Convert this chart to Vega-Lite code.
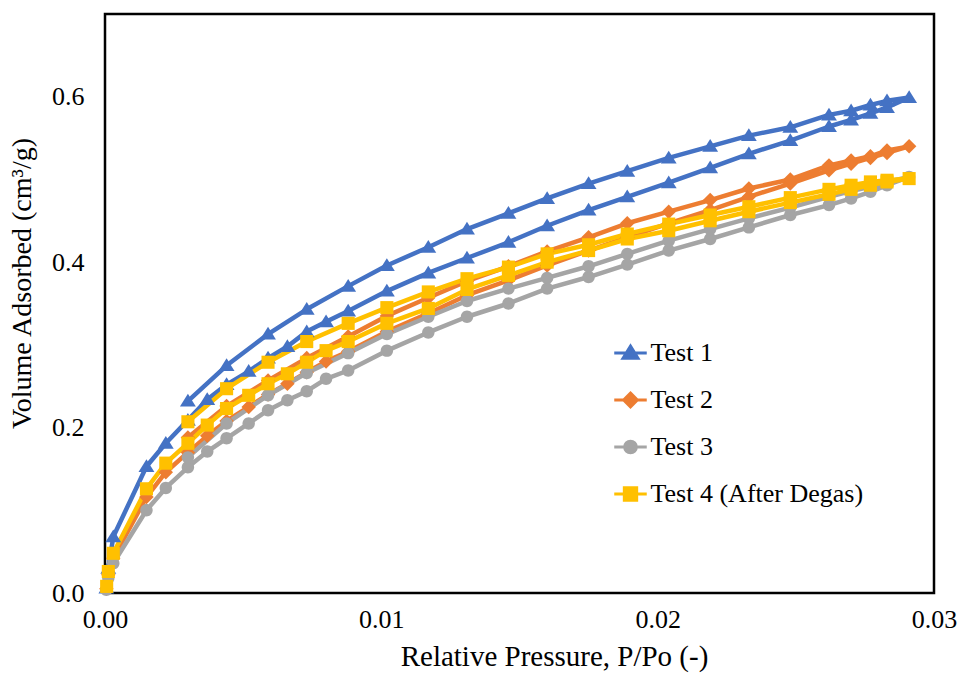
{
  "$schema": "https://vega.github.io/schema/vega-lite/v6.json",
  "width": 829,
  "height": 579,
  "autosize": {"type": "none"},
  "padding": {"left": 105, "top": 14, "right": 25, "bottom": 80},
  "background": "white",
  "config": {
    "view": {"stroke": "#000", "strokeWidth": 2.5},
    "font": "Times New Roman, Liberation Serif, serif"
  },
  "datasets": {
    "isotherms": [
      {"t": "Test 1", "i": 0, "p": 0.00005, "v": 0.006},
      {"t": "Test 1", "i": 1, "p": 0.00012, "v": 0.03},
      {"t": "Test 1", "i": 2, "p": 0.0003, "v": 0.068},
      {"t": "Test 1", "i": 3, "p": 0.0015, "v": 0.153},
      {"t": "Test 1", "i": 4, "p": 0.0022, "v": 0.181},
      {"t": "Test 1", "i": 5, "p": 0.003, "v": 0.209},
      {"t": "Test 1", "i": 6, "p": 0.0037, "v": 0.234},
      {"t": "Test 1", "i": 7, "p": 0.0044, "v": 0.252},
      {"t": "Test 1", "i": 8, "p": 0.0052, "v": 0.268},
      {"t": "Test 1", "i": 9, "p": 0.0059, "v": 0.284},
      {"t": "Test 1", "i": 10, "p": 0.0066, "v": 0.298},
      {"t": "Test 1", "i": 11, "p": 0.0073, "v": 0.316},
      {"t": "Test 1", "i": 12, "p": 0.008, "v": 0.328},
      {"t": "Test 1", "i": 13, "p": 0.0088, "v": 0.341},
      {"t": "Test 1", "i": 14, "p": 0.0102, "v": 0.365},
      {"t": "Test 1", "i": 15, "p": 0.0117, "v": 0.387},
      {"t": "Test 1", "i": 16, "p": 0.0131, "v": 0.405},
      {"t": "Test 1", "i": 17, "p": 0.0146, "v": 0.424},
      {"t": "Test 1", "i": 18, "p": 0.016, "v": 0.444},
      {"t": "Test 1", "i": 19, "p": 0.0175, "v": 0.463},
      {"t": "Test 1", "i": 20, "p": 0.0189, "v": 0.479},
      {"t": "Test 1", "i": 21, "p": 0.0204, "v": 0.496},
      {"t": "Test 1", "i": 22, "p": 0.0219, "v": 0.514},
      {"t": "Test 1", "i": 23, "p": 0.0233, "v": 0.531},
      {"t": "Test 1", "i": 24, "p": 0.0248, "v": 0.547},
      {"t": "Test 1", "i": 25, "p": 0.0262, "v": 0.564},
      {"t": "Test 1", "i": 26, "p": 0.027, "v": 0.572},
      {"t": "Test 1", "i": 27, "p": 0.0277, "v": 0.58},
      {"t": "Test 1", "i": 28, "p": 0.0283, "v": 0.587},
      {"t": "Test 1", "i": 29, "p": 0.0291, "v": 0.599},
      {"t": "Test 1", "i": 30, "p": 0.0283, "v": 0.595},
      {"t": "Test 1", "i": 31, "p": 0.0277, "v": 0.59},
      {"t": "Test 1", "i": 32, "p": 0.027, "v": 0.583},
      {"t": "Test 1", "i": 33, "p": 0.0262, "v": 0.578},
      {"t": "Test 1", "i": 34, "p": 0.0248, "v": 0.563},
      {"t": "Test 1", "i": 35, "p": 0.0233, "v": 0.553},
      {"t": "Test 1", "i": 36, "p": 0.0219, "v": 0.54},
      {"t": "Test 1", "i": 37, "p": 0.0204, "v": 0.526},
      {"t": "Test 1", "i": 38, "p": 0.0189, "v": 0.51},
      {"t": "Test 1", "i": 39, "p": 0.0175, "v": 0.495},
      {"t": "Test 1", "i": 40, "p": 0.016, "v": 0.477},
      {"t": "Test 1", "i": 41, "p": 0.0146, "v": 0.459},
      {"t": "Test 1", "i": 42, "p": 0.0131, "v": 0.44},
      {"t": "Test 1", "i": 43, "p": 0.0117, "v": 0.418},
      {"t": "Test 1", "i": 44, "p": 0.0102, "v": 0.396},
      {"t": "Test 1", "i": 45, "p": 0.0088, "v": 0.371},
      {"t": "Test 1", "i": 46, "p": 0.0073, "v": 0.343},
      {"t": "Test 1", "i": 47, "p": 0.0059, "v": 0.313},
      {"t": "Test 1", "i": 48, "p": 0.0044, "v": 0.275},
      {"t": "Test 1", "i": 49, "p": 0.003, "v": 0.232},

      {"t": "Test 2", "i": 0, "p": 0.00005, "v": 0.005},
      {"t": "Test 2", "i": 1, "p": 0.00012, "v": 0.022},
      {"t": "Test 2", "i": 2, "p": 0.0003, "v": 0.042},
      {"t": "Test 2", "i": 3, "p": 0.0015, "v": 0.116},
      {"t": "Test 2", "i": 4, "p": 0.0022, "v": 0.146},
      {"t": "Test 2", "i": 5, "p": 0.003, "v": 0.17},
      {"t": "Test 2", "i": 6, "p": 0.0037, "v": 0.19},
      {"t": "Test 2", "i": 7, "p": 0.0044, "v": 0.208},
      {"t": "Test 2", "i": 8, "p": 0.0052, "v": 0.225},
      {"t": "Test 2", "i": 9, "p": 0.0059, "v": 0.24},
      {"t": "Test 2", "i": 10, "p": 0.0066, "v": 0.253},
      {"t": "Test 2", "i": 11, "p": 0.0073, "v": 0.267},
      {"t": "Test 2", "i": 12, "p": 0.008, "v": 0.28},
      {"t": "Test 2", "i": 13, "p": 0.0088, "v": 0.292},
      {"t": "Test 2", "i": 14, "p": 0.0102, "v": 0.316},
      {"t": "Test 2", "i": 15, "p": 0.0117, "v": 0.338},
      {"t": "Test 2", "i": 16, "p": 0.0131, "v": 0.36},
      {"t": "Test 2", "i": 17, "p": 0.0146, "v": 0.378},
      {"t": "Test 2", "i": 18, "p": 0.016, "v": 0.396},
      {"t": "Test 2", "i": 19, "p": 0.0175, "v": 0.414},
      {"t": "Test 2", "i": 20, "p": 0.0189, "v": 0.43},
      {"t": "Test 2", "i": 21, "p": 0.0204, "v": 0.447},
      {"t": "Test 2", "i": 22, "p": 0.0219, "v": 0.463},
      {"t": "Test 2", "i": 23, "p": 0.0233, "v": 0.479},
      {"t": "Test 2", "i": 24, "p": 0.0248, "v": 0.495},
      {"t": "Test 2", "i": 25, "p": 0.0262, "v": 0.511},
      {"t": "Test 2", "i": 26, "p": 0.027, "v": 0.519},
      {"t": "Test 2", "i": 27, "p": 0.0277, "v": 0.526},
      {"t": "Test 2", "i": 28, "p": 0.0283, "v": 0.532},
      {"t": "Test 2", "i": 29, "p": 0.0291, "v": 0.54},
      {"t": "Test 2", "i": 30, "p": 0.0283, "v": 0.535},
      {"t": "Test 2", "i": 31, "p": 0.0277, "v": 0.528},
      {"t": "Test 2", "i": 32, "p": 0.027, "v": 0.523},
      {"t": "Test 2", "i": 33, "p": 0.0262, "v": 0.517},
      {"t": "Test 2", "i": 34, "p": 0.0248, "v": 0.5},
      {"t": "Test 2", "i": 35, "p": 0.0233, "v": 0.489},
      {"t": "Test 2", "i": 36, "p": 0.0219, "v": 0.475},
      {"t": "Test 2", "i": 37, "p": 0.0204, "v": 0.461},
      {"t": "Test 2", "i": 38, "p": 0.0189, "v": 0.447},
      {"t": "Test 2", "i": 39, "p": 0.0175, "v": 0.43},
      {"t": "Test 2", "i": 40, "p": 0.016, "v": 0.413},
      {"t": "Test 2", "i": 41, "p": 0.0146, "v": 0.395},
      {"t": "Test 2", "i": 42, "p": 0.0131, "v": 0.377},
      {"t": "Test 2", "i": 43, "p": 0.0117, "v": 0.357},
      {"t": "Test 2", "i": 44, "p": 0.0102, "v": 0.335},
      {"t": "Test 2", "i": 45, "p": 0.0088, "v": 0.31},
      {"t": "Test 2", "i": 46, "p": 0.0073, "v": 0.284},
      {"t": "Test 2", "i": 47, "p": 0.0059, "v": 0.257},
      {"t": "Test 2", "i": 48, "p": 0.0044, "v": 0.226},
      {"t": "Test 2", "i": 49, "p": 0.003, "v": 0.188},

      {"t": "Test 3", "i": 0, "p": 0.00005, "v": 0.004},
      {"t": "Test 3", "i": 1, "p": 0.00012, "v": 0.018},
      {"t": "Test 3", "i": 2, "p": 0.0003, "v": 0.036},
      {"t": "Test 3", "i": 3, "p": 0.0015, "v": 0.1},
      {"t": "Test 3", "i": 4, "p": 0.0022, "v": 0.127},
      {"t": "Test 3", "i": 5, "p": 0.003, "v": 0.152},
      {"t": "Test 3", "i": 6, "p": 0.0037, "v": 0.171},
      {"t": "Test 3", "i": 7, "p": 0.0044, "v": 0.187},
      {"t": "Test 3", "i": 8, "p": 0.0052, "v": 0.205},
      {"t": "Test 3", "i": 9, "p": 0.0059, "v": 0.221},
      {"t": "Test 3", "i": 10, "p": 0.0066, "v": 0.233},
      {"t": "Test 3", "i": 11, "p": 0.0073, "v": 0.244},
      {"t": "Test 3", "i": 12, "p": 0.008, "v": 0.259},
      {"t": "Test 3", "i": 13, "p": 0.0088, "v": 0.269},
      {"t": "Test 3", "i": 14, "p": 0.0102, "v": 0.293},
      {"t": "Test 3", "i": 15, "p": 0.0117, "v": 0.315},
      {"t": "Test 3", "i": 16, "p": 0.0131, "v": 0.334},
      {"t": "Test 3", "i": 17, "p": 0.0146, "v": 0.35},
      {"t": "Test 3", "i": 18, "p": 0.016, "v": 0.368},
      {"t": "Test 3", "i": 19, "p": 0.0175, "v": 0.382},
      {"t": "Test 3", "i": 20, "p": 0.0189, "v": 0.397},
      {"t": "Test 3", "i": 21, "p": 0.0204, "v": 0.414},
      {"t": "Test 3", "i": 22, "p": 0.0219, "v": 0.428},
      {"t": "Test 3", "i": 23, "p": 0.0233, "v": 0.442},
      {"t": "Test 3", "i": 24, "p": 0.0248, "v": 0.457},
      {"t": "Test 3", "i": 25, "p": 0.0262, "v": 0.469},
      {"t": "Test 3", "i": 26, "p": 0.027, "v": 0.477},
      {"t": "Test 3", "i": 27, "p": 0.0277, "v": 0.485},
      {"t": "Test 3", "i": 28, "p": 0.0283, "v": 0.493},
      {"t": "Test 3", "i": 29, "p": 0.0291, "v": 0.503},
      {"t": "Test 3", "i": 30, "p": 0.0283, "v": 0.497},
      {"t": "Test 3", "i": 31, "p": 0.0277, "v": 0.491},
      {"t": "Test 3", "i": 32, "p": 0.027, "v": 0.486},
      {"t": "Test 3", "i": 33, "p": 0.0262, "v": 0.479},
      {"t": "Test 3", "i": 34, "p": 0.0248, "v": 0.466},
      {"t": "Test 3", "i": 35, "p": 0.0233, "v": 0.453},
      {"t": "Test 3", "i": 36, "p": 0.0219, "v": 0.44},
      {"t": "Test 3", "i": 37, "p": 0.0204, "v": 0.426},
      {"t": "Test 3", "i": 38, "p": 0.0189, "v": 0.41},
      {"t": "Test 3", "i": 39, "p": 0.0175, "v": 0.395},
      {"t": "Test 3", "i": 40, "p": 0.016, "v": 0.381},
      {"t": "Test 3", "i": 41, "p": 0.0146, "v": 0.368},
      {"t": "Test 3", "i": 42, "p": 0.0131, "v": 0.353},
      {"t": "Test 3", "i": 43, "p": 0.0117, "v": 0.334},
      {"t": "Test 3", "i": 44, "p": 0.0102, "v": 0.313},
      {"t": "Test 3", "i": 45, "p": 0.0088, "v": 0.29},
      {"t": "Test 3", "i": 46, "p": 0.0073, "v": 0.266},
      {"t": "Test 3", "i": 47, "p": 0.0059, "v": 0.239},
      {"t": "Test 3", "i": 48, "p": 0.0044, "v": 0.205},
      {"t": "Test 3", "i": 49, "p": 0.003, "v": 0.164},

      {"t": "Test 4 (After Degas)", "i": 0, "p": 0.00006, "v": 0.008},
      {"t": "Test 4 (After Degas)", "i": 1, "p": 0.00012, "v": 0.026},
      {"t": "Test 4 (After Degas)", "i": 2, "p": 0.0003, "v": 0.048},
      {"t": "Test 4 (After Degas)", "i": 3, "p": 0.0015, "v": 0.126},
      {"t": "Test 4 (After Degas)", "i": 4, "p": 0.0022, "v": 0.157},
      {"t": "Test 4 (After Degas)", "i": 5, "p": 0.003, "v": 0.181},
      {"t": "Test 4 (After Degas)", "i": 6, "p": 0.0037, "v": 0.203},
      {"t": "Test 4 (After Degas)", "i": 7, "p": 0.0044, "v": 0.223},
      {"t": "Test 4 (After Degas)", "i": 8, "p": 0.0052, "v": 0.239},
      {"t": "Test 4 (After Degas)", "i": 9, "p": 0.0059, "v": 0.253},
      {"t": "Test 4 (After Degas)", "i": 10, "p": 0.0066, "v": 0.265},
      {"t": "Test 4 (After Degas)", "i": 11, "p": 0.0073, "v": 0.279},
      {"t": "Test 4 (After Degas)", "i": 12, "p": 0.008, "v": 0.293},
      {"t": "Test 4 (After Degas)", "i": 13, "p": 0.0088, "v": 0.304},
      {"t": "Test 4 (After Degas)", "i": 14, "p": 0.0102, "v": 0.326},
      {"t": "Test 4 (After Degas)", "i": 15, "p": 0.0117, "v": 0.344},
      {"t": "Test 4 (After Degas)", "i": 16, "p": 0.0131, "v": 0.367},
      {"t": "Test 4 (After Degas)", "i": 17, "p": 0.0146, "v": 0.384},
      {"t": "Test 4 (After Degas)", "i": 18, "p": 0.016, "v": 0.4},
      {"t": "Test 4 (After Degas)", "i": 19, "p": 0.0175, "v": 0.414},
      {"t": "Test 4 (After Degas)", "i": 20, "p": 0.0189, "v": 0.428},
      {"t": "Test 4 (After Degas)", "i": 21, "p": 0.0204, "v": 0.438},
      {"t": "Test 4 (After Degas)", "i": 22, "p": 0.0219, "v": 0.45},
      {"t": "Test 4 (After Degas)", "i": 23, "p": 0.0233, "v": 0.461},
      {"t": "Test 4 (After Degas)", "i": 24, "p": 0.0248, "v": 0.472},
      {"t": "Test 4 (After Degas)", "i": 25, "p": 0.0262, "v": 0.482},
      {"t": "Test 4 (After Degas)", "i": 26, "p": 0.027, "v": 0.488},
      {"t": "Test 4 (After Degas)", "i": 27, "p": 0.0277, "v": 0.493},
      {"t": "Test 4 (After Degas)", "i": 28, "p": 0.0283, "v": 0.497},
      {"t": "Test 4 (After Degas)", "i": 29, "p": 0.0291, "v": 0.501},
      {"t": "Test 4 (After Degas)", "i": 30, "p": 0.0283, "v": 0.499},
      {"t": "Test 4 (After Degas)", "i": 31, "p": 0.0277, "v": 0.497},
      {"t": "Test 4 (After Degas)", "i": 32, "p": 0.027, "v": 0.493},
      {"t": "Test 4 (After Degas)", "i": 33, "p": 0.0262, "v": 0.488},
      {"t": "Test 4 (After Degas)", "i": 34, "p": 0.0248, "v": 0.478},
      {"t": "Test 4 (After Degas)", "i": 35, "p": 0.0233, "v": 0.467},
      {"t": "Test 4 (After Degas)", "i": 36, "p": 0.0219, "v": 0.457},
      {"t": "Test 4 (After Degas)", "i": 37, "p": 0.0204, "v": 0.446},
      {"t": "Test 4 (After Degas)", "i": 38, "p": 0.0189, "v": 0.434},
      {"t": "Test 4 (After Degas)", "i": 39, "p": 0.0175, "v": 0.421},
      {"t": "Test 4 (After Degas)", "i": 40, "p": 0.016, "v": 0.41},
      {"t": "Test 4 (After Degas)", "i": 41, "p": 0.0146, "v": 0.394},
      {"t": "Test 4 (After Degas)", "i": 42, "p": 0.0131, "v": 0.38},
      {"t": "Test 4 (After Degas)", "i": 43, "p": 0.0117, "v": 0.364},
      {"t": "Test 4 (After Degas)", "i": 44, "p": 0.0102, "v": 0.345},
      {"t": "Test 4 (After Degas)", "i": 45, "p": 0.0088, "v": 0.326},
      {"t": "Test 4 (After Degas)", "i": 46, "p": 0.0073, "v": 0.304},
      {"t": "Test 4 (After Degas)", "i": 47, "p": 0.0059, "v": 0.279},
      {"t": "Test 4 (After Degas)", "i": 48, "p": 0.0044, "v": 0.247},
      {"t": "Test 4 (After Degas)", "i": 49, "p": 0.003, "v": 0.207}
    ]
  },
  "data": {"name": "isotherms"},
  "encoding": {
    "x": {
      "field": "p",
      "type": "quantitative",
      "scale": {"domain": [0, 0.03], "nice": false, "zero": false},
      "axis": {
        "title": "Relative Pressure, P/Po (-)",
        "values": [0, 0.01, 0.02, 0.03],
        "format": ".2f",
        "grid": false,
        "ticks": false,
        "domain": false,
        "labelFlush": false,
        "labelFont": "Times New Roman, Liberation Serif, serif",
        "labelFontSize": 26,
        "labelColor": "#000",
        "labelPadding": 13,
        "titleFont": "Times New Roman, Liberation Serif, serif",
        "titleFontSize": 29,
        "titleFontWeight": "normal",
        "titleColor": "#000",
        "titleX": 449,
        "titleY": 63,
        "titleBaseline": "middle",
        "titleAlign": "center"
      }
    },
    "y": {
      "field": "v",
      "type": "quantitative",
      "scale": {"domain": [0, 0.7], "nice": false},
      "axis": {
        "title": "Volume Adsorbed (cm³/g)",
        "values": [0, 0.2, 0.4, 0.6],
        "format": ".1f",
        "grid": false,
        "ticks": false,
        "domain": false,
        "labelFont": "Times New Roman, Liberation Serif, serif",
        "labelFontSize": 26,
        "labelColor": "#000",
        "labelPadding": 21,
        "titleFont": "Times New Roman, Liberation Serif, serif",
        "titleFontSize": 28,
        "titleFontWeight": "normal",
        "titleColor": "#000",
        "titleAngle": -90,
        "titleX": -83,
        "titleY": 269,
        "titleBaseline": "middle",
        "titleAlign": "center"
      }
    },
    "color": {
      "field": "t",
      "type": "nominal",
      "scale": {
        "domain": ["Test 1", "Test 2", "Test 3", "Test 4 (After Degas)"],
        "range": ["#4472C4", "#ED7D31", "#A5A5A5", "#FFC000"]
      },
      "legend": {
        "title": null,
        "orient": "none",
        "legendX": 512.5,
        "legendY": 326,
        "padding": 0,
        "symbolSize": 169,
        "symbolStrokeWidth": 3,
        "labelFont": "Times New Roman, Liberation Serif, serif",
        "labelFontSize": 26,
        "labelLimit": 400,
        "labelColor": "#000",
        "labelOffset": 7,
        "rowPadding": 21,
        "encode": {
          "symbols": {
            "update": {
              "shape": {"signal": "datum.value === 'Test 1' ? 'M-2.5,0H2.5M-1.15,0.8L0,-1.05L1.15,0.8Z' : datum.value === 'Test 2' ? 'M-2.5,0H2.5M0,-1.05L1.05,0L0,1.05L-1.05,0Z' : datum.value === 'Test 3' ? 'M-2.5,0H2.5M-0.9,0A0.9,0.9,0,1,0,0.9,0A0.9,0.9,0,1,0,-0.9,0Z' : 'M-2.5,0H2.5M-0.95,-0.95H0.95V0.95H-0.95Z'"},
              "stroke": {"signal": "scale('color', datum.value)"},
              "fill": {"signal": "scale('color', datum.value)"},
              "strokeWidth": {"value": 3},
              "opacity": {"value": 1}
            }
          }
        }
      }
    }
  },
  "layer": [
    {
      "mark": {"type": "line", "strokeWidth": 4.5, "strokeJoin": "round"},
      "encoding": {
        "order": {"field": "i", "type": "quantitative"}
      }
    },
    {
      "mark": {"type": "point", "filled": true, "size": 190, "opacity": 1},
      "encoding": {
        "shape": {
          "field": "t",
          "type": "nominal",
          "scale": {
            "domain": ["Test 4 (After Degas)", "Test 3", "Test 2", "Test 1"],
            "range": [
              "M-0.95,-0.95H0.95V0.95H-0.95Z",
              "M-0.9,0A0.9,0.9,0,1,0,0.9,0A0.9,0.9,0,1,0,-0.9,0Z",
              "M0,-1.05L1.05,0L0,1.05L-1.05,0Z",
              "M-1.15,0.8L0,-1.05L1.15,0.8Z"
            ]
          },
          "legend": null
        }
      }
    }
  ]
}
